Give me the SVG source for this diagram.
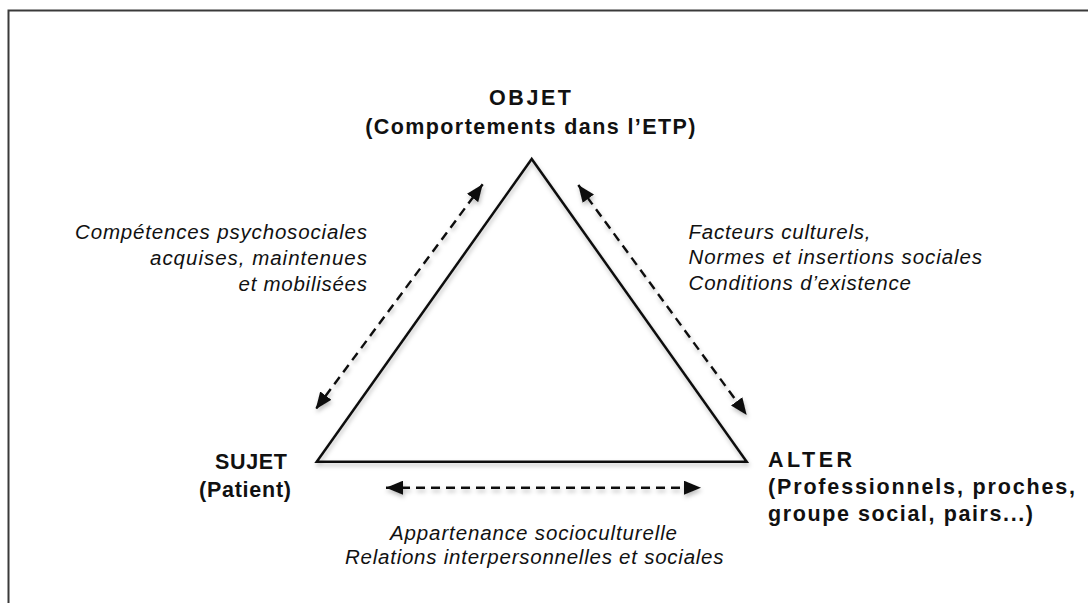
<svg xmlns="http://www.w3.org/2000/svg" width="1088" height="603" viewBox="0 0 1088 603">
  <style>
    .lbl { font-family: "Liberation Sans", Arial, sans-serif; fill: #111; }
    .bold { font-weight: bold; font-size: 21.5px; }
    .ital { font-style: italic; font-size: 20.5px; }
    .tri { fill: none; stroke: #111; stroke-width: 2.5; stroke-linejoin: miter; }
    .conn { fill: none; stroke: #111; stroke-width: 2.4; stroke-dasharray: 9 6; }
  </style>
  <defs>
    <filter id="shadow" x="-10%" y="-10%" width="120%" height="130%">
      <feDropShadow dx="1" dy="3" stdDeviation="2" flood-color="#000" flood-opacity="0.25"/>
    </filter>
    <marker id="head" viewBox="0 0 17 14" refX="17" refY="7" markerWidth="17" markerHeight="14" markerUnits="userSpaceOnUse" orient="auto-start-reverse">
      <path d="M0,0 L17,7 L0,14 Z" fill="#111"/>
    </marker>
  </defs>

  <rect x="8.5" y="10.5" width="1100" height="700" fill="#fff" stroke="#3a3a3a" stroke-width="2"/>

  <g id="triangle" filter="url(#shadow)">
    <polygon class="tri" points="531.7,159 316.7,461.7 746.7,461.7"/>
  </g>

  <g id="connectors" filter="url(#shadow)">
    <line class="conn" x1="482.7" y1="184.3" x2="315.7" y2="409.3" marker-start="url(#head)" marker-end="url(#head)"/>
    <line class="conn" x1="578.3" y1="185" x2="746.7" y2="415" marker-start="url(#head)" marker-end="url(#head)"/>
    <line class="conn" x1="386" y1="487.7" x2="701" y2="487.7" marker-start="url(#head)" marker-end="url(#head)"/>
  </g>

  <g id="node-objet">
    <text class="lbl bold" x="489" y="105" textLength="82" lengthAdjust="spacing">OBJET</text>
    <text class="lbl bold" x="531" y="133.5" text-anchor="middle" letter-spacing="1.4">(Comportements dans l’ETP)</text>
  </g>

  <g id="node-sujet">
    <text class="lbl bold" x="215" y="469" textLength="72" lengthAdjust="spacing">SUJET</text>
    <text class="lbl bold" x="199" y="497" textLength="92" lengthAdjust="spacing">(Patient)</text>
  </g>

  <g id="node-alter">
    <text class="lbl bold" x="768" y="467" textLength="84" lengthAdjust="spacing">ALTER</text>
    <text class="lbl bold" x="768" y="494" textLength="307" lengthAdjust="spacing">(Professionnels, proches,</text>
    <text class="lbl bold" x="768" y="521" textLength="265" lengthAdjust="spacing">groupe social, pairs...)</text>
  </g>

  <g id="label-left">
    <text class="lbl ital" x="75" y="239" textLength="292" lengthAdjust="spacing">Compétences psychosociales</text>
    <text class="lbl ital" x="150" y="265" textLength="217" lengthAdjust="spacing">acquises, maintenues</text>
    <text class="lbl ital" x="238.5" y="291" textLength="128.5" lengthAdjust="spacing">et mobilisées</text>
  </g>

  <g id="label-right">
    <text class="lbl ital" x="688.5" y="238.5" textLength="182" lengthAdjust="spacing">Facteurs culturels,</text>
    <text class="lbl ital" x="688.5" y="264" textLength="293.5" lengthAdjust="spacing">Normes et insertions sociales</text>
    <text class="lbl ital" x="688.5" y="289.5" textLength="222.5" lengthAdjust="spacing">Conditions d’existence</text>
  </g>

  <g id="label-bottom">
    <text class="lbl ital" x="390" y="540" textLength="287" lengthAdjust="spacing">Appartenance socioculturelle</text>
    <text class="lbl ital" x="345" y="564" textLength="378.5" lengthAdjust="spacing">Relations interpersonnelles et sociales</text>
  </g>
</svg>
